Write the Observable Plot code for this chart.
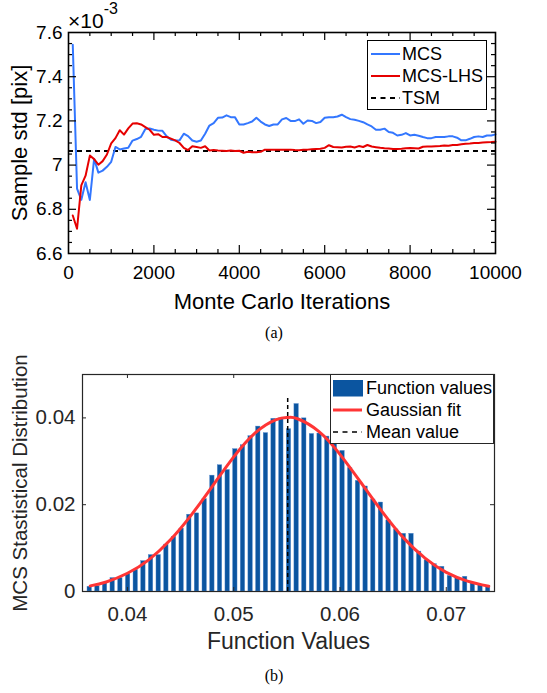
<!DOCTYPE html>
<html>
<head>
<meta charset="utf-8">
<script src="https://cdn.jsdelivr.net/npm/d3@7"></script>
<script src="https://cdn.jsdelivr.net/npm/@observablehq/plot@0.6"></script>
<style>
  html, body { margin: 0; padding: 0; background: #fff; }
  #page { position: relative; width: 547px; height: 693px; overflow: hidden; background: #fff; font-family: "Liberation Sans", Arial, sans-serif; }
  .caption { position: absolute; font-family: "Liberation Serif", "Times New Roman", serif; font-size: 16px; color: #000; width: 60px; text-align: center; line-height: 16px; }
  .legend { position: absolute; background: #fff; box-sizing: border-box; }
  .legend .item { position: absolute; left: 0; right: 0; height: 20px; }
  .legend .lab { position: absolute; white-space: nowrap; font-size: 18px; line-height: 20px; top: 0; }
  .legend svg { position: absolute; top: 0; }
</style>
</head>
<body>
<div id="page"></div>
<script>
// ---------------- Data: panel (a) ----------------
const iterations = d3.range(100, 10001, 100);
const mcsStd = [
  7.545, 6.894, 6.843, 6.922, 6.842, 7.028, 6.966, 6.975, 6.992, 7.015,
  7.082, 7.071, 7.075, 7.078, 7.111, 7.118, 7.128, 7.163, 7.166, 7.160,
  7.156, 7.155, 7.130, 7.115, 7.111, 7.112, 7.142, 7.131, 7.111, 7.106,
  7.111, 7.142, 7.179, 7.190, 7.214, 7.215, 7.225, 7.217, 7.216, 7.184,
  7.184, 7.190, 7.197, 7.214, 7.197, 7.184, 7.177, 7.184, 7.184, 7.207,
  7.213, 7.200, 7.199, 7.207, 7.187, 7.202, 7.200, 7.190, 7.195, 7.214,
  7.217, 7.217, 7.220, 7.228, 7.217, 7.208, 7.205, 7.200, 7.194, 7.184,
  7.175, 7.160, 7.160, 7.165, 7.150, 7.146, 7.134, 7.137, 7.145, 7.134,
  7.137, 7.133, 7.127, 7.122, 7.122, 7.127, 7.127, 7.127, 7.130, 7.130,
  7.124, 7.112, 7.112, 7.119, 7.127, 7.130, 7.127, 7.134, 7.134, 7.139
];
const lhsStd = [
  6.772, 6.712, 6.908, 6.952, 7.043, 7.027, 7.002, 7.018, 7.048, 7.098,
  7.122, 7.158, 7.138, 7.166, 7.188, 7.189, 7.184, 7.172, 7.160, 7.137,
  7.140, 7.127, 7.127, 7.120, 7.112, 7.100, 7.078, 7.068, 7.085, 7.082,
  7.078, 7.085, 7.066, 7.068, 7.066, 7.065, 7.064, 7.066, 7.064, 7.065,
  7.056, 7.060, 7.058, 7.058, 7.060, 7.070, 7.070, 7.069, 7.070, 7.070,
  7.069, 7.070, 7.068, 7.067, 7.069, 7.070, 7.072, 7.073, 7.074, 7.078,
  7.090, 7.082, 7.081, 7.080, 7.083, 7.084, 7.080, 7.086, 7.082, 7.091,
  7.084, 7.081, 7.078, 7.076, 7.075, 7.073, 7.073, 7.074, 7.076, 7.077,
  7.076, 7.075, 7.083, 7.084, 7.084, 7.085, 7.086, 7.089, 7.088, 7.091,
  7.091, 7.094, 7.097, 7.098, 7.100, 7.100, 7.102, 7.103, 7.104, 7.106
];
const tsmStd = 7.064;
const xTicksA = [0, 2000, 4000, 6000, 8000, 10000];
const yTicksA = [6.6, 6.8, 7.0, 7.2, 7.4, 7.6];

// ---------------- Data: panel (b) ----------------
const binCenters = [
  0.03645, 0.03717, 0.03789, 0.03861, 0.03933, 0.04006, 0.04078, 0.04150, 0.04222, 0.04294,
  0.04366, 0.04438, 0.04510, 0.04582, 0.04654, 0.04727, 0.04799, 0.04871, 0.04943, 0.05015,
  0.05087, 0.05159, 0.05231, 0.05303, 0.05375, 0.05448, 0.05520, 0.05592, 0.05664, 0.05736,
  0.05808, 0.05880, 0.05952, 0.06024, 0.06096, 0.06169, 0.06241, 0.06313, 0.06385, 0.06457,
  0.06529, 0.06601, 0.06673, 0.06745, 0.06817, 0.06890, 0.06962, 0.07034, 0.07106, 0.07178,
  0.07250, 0.07322, 0.07394
];
const binHeights = [
  0.0011, 0.0012, 0.0020, 0.0031, 0.0031, 0.0040, 0.0050, 0.0070, 0.0084, 0.0084,
  0.0108, 0.0126, 0.0145, 0.0177, 0.0180, 0.0213, 0.0267, 0.0291, 0.0280, 0.0328,
  0.0337, 0.0358, 0.0380, 0.0365, 0.0398, 0.0399, 0.0374, 0.0432, 0.0399, 0.0363,
  0.0364, 0.0357, 0.0340, 0.0324, 0.0284, 0.0255, 0.0242, 0.0212, 0.0205, 0.0164,
  0.0143, 0.0133, 0.0133, 0.0092, 0.0072, 0.0063, 0.0057, 0.0036, 0.0032, 0.0034,
  0.0019, 0.0015, 0.0013
];
const binWidth = 0.000721;
const fitX = [0.0365, 0.038, 0.040, 0.042, 0.044, 0.046, 0.048, 0.050, 0.052, 0.054, 0.0551,
              0.056, 0.058, 0.060, 0.062, 0.064, 0.066, 0.068, 0.070, 0.072, 0.074];
const fitY = [0.0013, 0.0022, 0.0042, 0.0073, 0.0118, 0.0176, 0.0243, 0.0310, 0.0365, 0.0396, 0.0401,
              0.0398, 0.0369, 0.0316, 0.0250, 0.0183, 0.0123, 0.0077, 0.0044, 0.0024, 0.0012];
const meanValue = 0.05508;
const meanLineTop = 0.0446;
const xTicksB = [0.04, 0.05, 0.06, 0.07];
const yTicksB = [0, 0.02, 0.04];

const page = document.getElementById("page");
const FONT = "'Liberation Sans', Arial, Helvetica, sans-serif";

// ---------------- Panel (a) ----------------
(function () {
  const W = 547, H = 320, mL = 68, mR = 52, mT = 32, mB = 67;
  const pw = W - mL - mR, ph = H - mT - mB;
  const rows = iterations.map((x, i) => ({x, mcs: mcsStd[i], lhs: lhsStd[i]}));
  const minorX = d3.range(1, 20).map(i => i * 500).filter(v => v % 2000 !== 0);
  const majorX = xTicksA.slice(1, -1);
  const minorY = d3.range(1, 20).map(i => 6.6 + i * 0.05).filter(v => Math.abs((v - 6.6) / 0.2 - Math.round((v - 6.6) / 0.2)) > 1e-6);
  const majorY = yTicksA.slice(1, -1);
  const chart = Plot.plot({
    width: W, height: H, marginLeft: mL, marginRight: mR, marginTop: mT, marginBottom: mB,
    style: {fontFamily: FONT, color: "#000", background: "transparent", overflow: "visible"},
    x: {domain: [0, 10000], axis: null},
    y: {domain: [6.6, 7.6], axis: null},
    marks: [
      Plot.ruleY([tsmStd], {stroke: "#000", strokeWidth: 2, strokeDasharray: "5,4"}),
      Plot.line(rows, {x: "x", y: "mcs", stroke: "#3377ff", strokeWidth: 2, strokeLinejoin: "round"}),
      Plot.line(rows, {x: "x", y: "lhs", stroke: "#e60000", strokeWidth: 2, strokeLinejoin: "round"}),
      Plot.tickX(minorX, {x: d => d, insetTop: ph - 4, stroke: "#000", strokeWidth: 1.2}),
      Plot.tickX(minorX, {x: d => d, insetBottom: ph - 4, stroke: "#000", strokeWidth: 1.2}),
      Plot.tickX(majorX, {x: d => d, insetTop: ph - 8, stroke: "#000", strokeWidth: 1.2}),
      Plot.tickX(majorX, {x: d => d, insetBottom: ph - 8, stroke: "#000", strokeWidth: 1.2}),
      Plot.tickY(minorY, {y: d => d, insetRight: pw - 4, stroke: "#000", strokeWidth: 1.2}),
      Plot.tickY(minorY, {y: d => d, insetLeft: pw - 4, stroke: "#000", strokeWidth: 1.2}),
      Plot.tickY(majorY, {y: d => d, insetRight: pw - 8, stroke: "#000", strokeWidth: 1.2}),
      Plot.tickY(majorY, {y: d => d, insetLeft: pw - 8, stroke: "#000", strokeWidth: 1.2}),
      Plot.frame({stroke: "#000", strokeWidth: 1.6}),
      Plot.axisX(xTicksA, {tickSize: 0, tickPadding: 12, fontSize: 19, tickFormat: d => String(d), label: null}),
      Plot.axisY(yTicksA, {tickSize: 0, tickPadding: 6, fontSize: 19, tickFormat: d => String(+d.toFixed(1)), label: null}),
      Plot.text(["Monte Carlo Iterations"], {text: d => d, frameAnchor: "bottom", dy: 48, fontSize: 22, fill: "#000", textAnchor: "middle", lineAnchor: "middle"}),
      Plot.text(["Sample std [pix]"], {text: d => d, frameAnchor: "left", dx: -49, rotate: -90, fontSize: 22, fill: "#000", textAnchor: "middle", lineAnchor: "middle"})
    ]
  });
  chart.style.position = "absolute";
  chart.style.left = "0px";
  chart.style.top = "0px";
  page.appendChild(chart);
})();

// exponent label
(function () {
  const ns = "http://www.w3.org/2000/svg";
  const svg = document.createElementNS(ns, "svg");
  svg.setAttribute("width", 140); svg.setAttribute("height", 32);
  svg.style.position = "absolute"; svg.style.left = "0px"; svg.style.top = "0px";
  const t = document.createElementNS(ns, "text");
  t.setAttribute("x", 68); t.setAttribute("y", 28);
  t.setAttribute("font-family", "Liberation Sans, Arial, sans-serif");
  t.setAttribute("font-size", 21);
  t.appendChild(document.createTextNode("\u00D710"));
  const s = document.createElementNS(ns, "tspan");
  s.setAttribute("font-size", 16); s.setAttribute("dy", -14.5);
  s.textContent = "-3";
  t.appendChild(s);
  svg.appendChild(t);
  page.appendChild(svg);
})();

// ---------------- Panel (b) ----------------
(function () {
  const top = 344;
  const W = 547, H = 320, mL = 82, mR = 53, mT = 30, mB = 73;
  const pw = W - mL - mR, ph = H - mT - mB;
  const bins = binCenters.map((c, i) => ({c, h: binHeights[i]}));
  const fit = fitX.map((x, i) => ({x, y: fitY[i]}));
  const ink = "#262626";
  const chart = Plot.plot({
    width: W, height: H, marginLeft: mL, marginRight: mR, marginTop: mT, marginBottom: mB,
    style: {fontFamily: FONT, color: ink, background: "transparent", overflow: "visible"},
    x: {domain: [0.03577, 0.07454], axis: null},
    y: {domain: [0, 0.05], axis: null},
    marks: [
      Plot.rectY(bins, {x1: d => d.c - binWidth * 0.29, x2: d => d.c + binWidth * 0.29, y1: 0, y2: "h", fill: "#0b55a0", stroke: "#5b8ed0", strokeWidth: 0.4}),
      Plot.line(fit, {x: "x", y: "y", stroke: "#ff3535", strokeWidth: 3, curve: "natural"}),
      Plot.ruleX([meanValue], {x: d => d, y1: 0, y2: meanLineTop, stroke: "#000", strokeWidth: 1.5, strokeDasharray: "4,3"}),
      Plot.tickX(xTicksB, {x: d => d, insetTop: ph - 4, stroke: ink, strokeWidth: 1}),
      Plot.tickX(xTicksB, {x: d => d, insetBottom: ph - 4, stroke: ink, strokeWidth: 1}),
      Plot.tickY(yTicksB.slice(1), {y: d => d, insetRight: pw - 4, stroke: ink, strokeWidth: 1}),
      Plot.tickY(yTicksB.slice(1), {y: d => d, insetLeft: pw - 4, stroke: ink, strokeWidth: 1}),
      Plot.frame({stroke: ink, strokeWidth: 1.2}),
      Plot.axisX(xTicksB, {tickSize: 0, tickPadding: 15, fontSize: 20.5, fill: ink, tickFormat: d => String(+d.toFixed(2)), label: null}),
      Plot.axisY(yTicksB, {tickSize: 0, tickPadding: 7, fontSize: 20.5, fill: ink, tickFormat: d => String(+d.toFixed(2)), label: null}),
      Plot.text(["Function Values"], {text: d => d, frameAnchor: "bottom", dy: 50, fontSize: 23, fill: ink, textAnchor: "middle", lineAnchor: "middle"}),
      Plot.text(["MCS Stastistical Distribution"], {text: d => d, frameAnchor: "left", dx: -62, rotate: -90, fontSize: 20.5, fill: ink, textAnchor: "middle", lineAnchor: "middle"})
    ]
  });
  chart.style.position = "absolute";
  chart.style.left = "0px";
  chart.style.top = top + "px";
  page.appendChild(chart);
})();

// ---------------- Legends ----------------
function legend(left, top, width, height, border, color, items) {
  const box = document.createElement("div");
  box.className = "legend";
  Object.assign(box.style, {left: left + "px", top: top + "px", width: width + "px", height: height + "px", border: border, color: color});
  items.forEach(it => {
    const row = document.createElement("div");
    row.className = "item";
    row.style.top = (it.cy - 10) + "px";
    const sw = document.createElementNS("http://www.w3.org/2000/svg", "svg");
    sw.setAttribute("width", 32); sw.setAttribute("height", 20);
    sw.style.left = it.sx + "px";
    if (it.kind === "rect") {
      sw.innerHTML = `<rect x="0" y="2" width="30" height="16.5" fill="${it.color}"/>`;
    } else {
      sw.innerHTML = `<line x1="0" y1="10" x2="29" y2="10" stroke="${it.color}" stroke-width="${it.w}" ${it.dash ? `stroke-dasharray="${it.dash}"` : ""}/>`;
    }
    row.appendChild(sw);
    const lab = document.createElement("div");
    lab.className = "lab";
    lab.style.left = it.tx + "px";
    lab.textContent = it.label;
    row.appendChild(lab);
    box.appendChild(row);
  });
  page.appendChild(box);
}
legend(367, 40, 120, 70, "1.3px solid #000", "#000", [
  {label: "MCS", kind: "line", color: "#3377ff", w: 2, cy: 12.5, sx: 3, tx: 34},
  {label: "MCS-LHS", kind: "line", color: "#e60000", w: 2, cy: 35, sx: 3, tx: 34},
  {label: "TSM", kind: "line", color: "#000", w: 2, dash: "5,4.5", cy: 57, sx: 3, tx: 34}
]);
legend(330, 374, 164, 69.5, "1.2px solid #262626", "#000", [
  {label: "Function values", kind: "rect", color: "#0b55a0", cy: 13, sx: 2, tx: 35},
  {label: "Gaussian fit", kind: "line", color: "#ff3535", w: 3, cy: 35, sx: 2, tx: 35},
  {label: "Mean value", kind: "line", color: "#000", w: 1.5, dash: "5,4.5", cy: 57, sx: 2, tx: 35}
]);

// ---------------- Captions ----------------
[["(a)", 325], ["(b)", 668]].forEach(([t, y]) => {
  const c = document.createElement("div");
  c.className = "caption";
  c.style.left = (274 - 30) + "px";
  c.style.top = y + "px";
  c.textContent = t;
  page.appendChild(c);
});
</script>
</body>
</html>
